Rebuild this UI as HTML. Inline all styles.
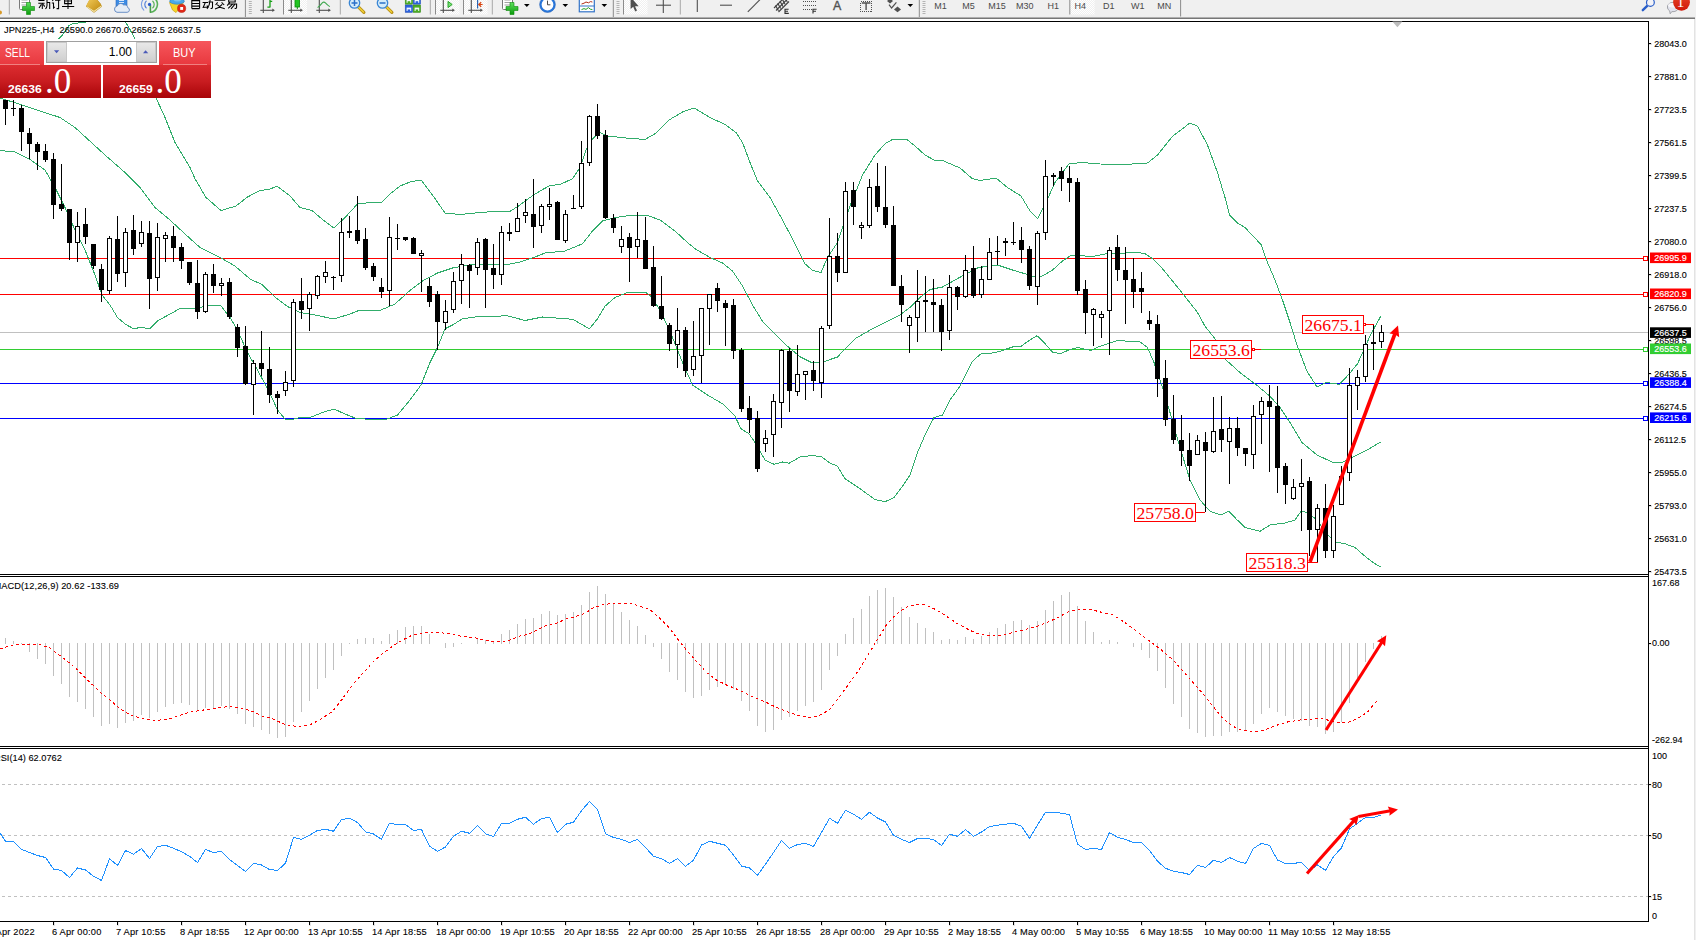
<!DOCTYPE html><html><head><meta charset="utf-8"><title>JPN225 H4</title>
<style>
html,body{margin:0;padding:0;background:#fff;}
body{width:1696px;height:940px;position:relative;overflow:hidden;font-family:'Liberation Sans', sans-serif;}
#tb{position:absolute;left:0;top:0;width:1696px;height:17px;background:#f0f0f0;}
#re{position:absolute;left:1694.7px;top:0;width:1.3px;height:940px;background:#f0f0f0;}
#tbb{position:absolute;left:0;top:15.8px;width:1695px;height:3.2px;background:linear-gradient(#f8f8f8,#ececec 22%,#a4a4a4 55%,#5c5c5c 100%);}
#panel{position:absolute;left:0;top:41px;width:211px;height:57px;}
#panel div{position:absolute;box-sizing:border-box;}
.rb{background:linear-gradient(#f6565c,#e8383e);color:#fff;font-size:12.5px;}
.rp{background:linear-gradient(#dc2c30,#c81c20 50%,#a80408);color:#fff;}
svg{position:absolute;left:0;top:0;}
svg text{font-family:'Liberation Sans', sans-serif;}
</style></head><body>
<svg id="chart" width="1696" height="940" viewBox="0 0 1696 940">
<defs><clipPath id="cm"><rect x="0" y="22" width="1648" height="552"/></clipPath><clipPath id="c2"><rect x="0" y="577" width="1648" height="169"/></clipPath><clipPath id="c3"><rect x="0" y="749" width="1648" height="172"/></clipPath></defs>
<g shape-rendering="crispEdges" fill="#000">
<rect x="0" y="21" width="1649" height="1"/>
<rect x="1648" y="21" width="1" height="901"/>
<rect x="0" y="574" width="1649" height="1"/>
<rect x="0" y="576" width="1649" height="1"/>
<rect x="0" y="746" width="1649" height="1"/>
<rect x="0" y="748" width="1649" height="1"/>
<rect x="0" y="921" width="1649" height="1"/>
</g>
<rect x="1694" y="19" width="1" height="921" fill="#e3e3e3" shape-rendering="crispEdges"/>
<g shape-rendering="crispEdges">
<rect x="0" y="332" width="1648" height="1" fill="#c0c0c0"/>
<rect x="0" y="258" width="1643" height="1" fill="#ff0000"/>
<rect x="1643.5" y="256.5" width="4" height="4" fill="#fff" stroke="#ff0000" stroke-width="1"/>
<rect x="0" y="294" width="1643" height="1" fill="#ff0000"/>
<rect x="1643.5" y="292.5" width="4" height="4" fill="#fff" stroke="#ff0000" stroke-width="1"/>
<rect x="0" y="349" width="1643" height="1" fill="#32cd32"/>
<rect x="1643.5" y="347.5" width="4" height="4" fill="#fff" stroke="#32cd32" stroke-width="1"/>
<rect x="0" y="383" width="1643" height="1" fill="#0000ff"/>
<rect x="1643.5" y="381.5" width="4" height="4" fill="#fff" stroke="#0000ff" stroke-width="1"/>
<rect x="0" y="418" width="1643" height="1" fill="#0000ff"/>
<rect x="1643.5" y="416.5" width="4" height="4" fill="#fff" stroke="#0000ff" stroke-width="1"/>
</g>
<g clip-path="url(#cm)" fill="none" stroke="#31ad6b" stroke-width="1" stroke-linejoin="round" shape-rendering="crispEdges">
<polyline points="0,52 30,48 50,44 59.1,38.7 62,35.5 66,30.3 68.5,25.9 71.1,24.2 76.3,23.3 81.5,22.4 85.7,22 95,20.5 105,19.5 115,20.5 125.6,22 130.1,29.6 134.7,38.7 145,65 157,100 165,117.5 175,142.5 190,167.5 195,178.75 206,197.5 221,210.5 236,206 247.5,197 260,190.5 269,189.5 277,186 290,196 300,207.5 312,210.5 322.5,219.5 334,228 345,217.5 357.5,204 370,202.5 381,203 390,194 400,186 410,182 421,180 432.5,195 445,213 460,214.5 475,213 490,211.75 509,212 520,205 530,197.5 540,191 550,185.5 560,184.5 572.5,178.75 580,167.5 586,150 592.5,138.75 600,132.5 607.5,136 626,138 645,139.5 655,133.75 669,120 682.5,112 694,108 710,117.5 725,124.5 736,132.5 742.5,142.5 750,162.5 757.5,181 770,197.5 782.5,220 795,243.75 805,263.75 812.5,270.5 821,272.5 827.5,257.5 837.5,242.5 850,206 862.5,175 875,155 885,143.75 892.5,139.5 907.5,140 915,146 925,155 935,160.5 942.5,160.5 960,168 972.5,178.75 980,180.5 996,178 1007.5,187.5 1021,196 1030,211 1037.5,218.75 1046,202.5 1055,182.5 1069,163.75 1082.5,162.5 1100,164 1125,164.5 1147.5,163 1157.5,155 1172.5,136.25 1190,123 1197.5,126.25 1207.5,145 1217.5,172.5 1225,197.5 1229.5,215 1237.5,223 1245,227.5 1261,244.5 1267.5,262.5 1275,280 1282.5,300 1290,322.5 1297,345 1307,371.25 1317,387 1326,382.5 1339.5,384.3 1349.4,373.7 1357.5,363.8 1363.4,351 1370.4,335 1381,315.8"/>
<polyline points="0,98 22,105 60,117.5 75,127.5 105,155 125,172.5 140,187.5 155,207.5 170,220 185,234 200,247.5 220,257.5 235,266 250,279 262,284.5 275,297 287.5,306.5 300,312.5 312.5,314.5 334,319 350,314 357.5,311 381,310 395,304 410,290.5 422.5,281 437.5,273 452.5,268 470,265 485,264 507.5,264.5 520,262 535,257 545,253 565,251 582.5,243.75 592.5,231 602.5,221 615,217.5 630,215.5 647.5,215.5 660,220 675,231 687.5,242.5 695,248.75 710,257.5 722.5,263 732.5,271 742.5,286 752.5,305 762.5,321.25 775,333.75 787.5,346.25 800,356.75 812.5,363 825,361.25 837.5,357 845,348.75 855,338.75 872.5,328.75 887.5,321.25 900,315 910,307.5 920,297.5 930,289.5 942.5,287 955,280 965,274.5 977.5,268 987.5,266 997.5,265 1012.5,270 1025,273.75 1035,277 1042.5,276 1052.5,270 1062.5,261 1070,256 1080,255 1090,257 1100,255 1110,253 1125,253 1135,252 1145,253.75 1152.5,258.75 1162.5,268.75 1172.5,281 1185,296.5 1197.5,312.5 1205,326.25 1215,338.75 1226,360 1240,372.5 1255,383.75 1270,396.25 1280,407.5 1290,422.5 1302,442.5 1317,455 1332,462 1340.75,463 1352,457.5 1367,450 1380.75,442"/>
<polyline points="0,150.5 15,152 30,159.5 45,170 55,187.5 65,207.5 75,230 85,250 95,275 102,295 110,305 117.5,317.5 125,324 134,329 141,327 149.5,329 157.5,321 170,314 181,308 195,309 207,305.5 221,306 230,317.5 237.5,330 247.5,352.5 257.5,370 269.5,392.5 277.5,410 285,419 294,419 300,417.5 310,417.5 322.5,412.5 334,409 345,414 355,418 370,419.5 386,419.5 397.5,415 410,400 421,385 430,362.5 437.5,347.5 445,328.75 452.5,325 462.5,318.75 475,317 507.5,315.75 525,320.5 542.5,317 572.5,319.25 589.5,328.75 597.5,318.75 605,306.25 615,297.5 627.5,292.5 646,292.5 652.5,297.5 662.5,315 672.5,337.5 682.5,362.5 692.5,385 707.5,395 722.5,403.75 735,416.25 741,428.75 749,433.75 755,442.5 765,460 774,464.25 782.5,462 789,463.25 800,457 810,455.75 821,456.25 830,463 837.5,466.25 845,478.75 860,488.75 875,499.5 885,501.75 894,497.5 902.5,486.25 910,475 917.5,452.5 925,435 934,417.5 942.5,415 950,400 960,386.25 972.5,361.25 981,353.75 992.5,353 1000,351.25 1012.5,347 1021,346.25 1030,340 1037,335.75 1044,342.5 1052.5,352 1060,353.75 1070,349.5 1077.5,347.5 1091,350.5 1100,346.25 1117.5,340.5 1125,341 1140,342 1147.5,347.5 1154,362.5 1162.5,387.5 1170,412.5 1180,447.5 1190,480 1200,500 1210,511.25 1221,515 1229,511.25 1236,518.75 1245,527.5 1260,531.25 1270,525 1285,523 1295,520 1301,511.25 1307.5,512.5 1317,520 1325,532 1335,542 1345,543.75 1355,547.5 1365,556.25 1375,563.75 1380.5,566.75"/>
</g>
<g shape-rendering="crispEdges" clip-path="url(#cm)">
<rect x="5" y="100" width="1" height="25" fill="#000"/>
<rect x="3" y="100" width="5" height="9" fill="#000"/>
<rect x="13" y="100" width="1" height="16" fill="#000"/>
<rect x="11" y="108" width="5" height="1" fill="#000"/>
<rect x="21" y="105" width="1" height="46" fill="#000"/>
<rect x="19" y="108" width="5" height="24" fill="#000"/>
<rect x="29" y="128" width="1" height="31" fill="#000"/>
<rect x="27" y="133" width="5" height="11" fill="#000"/>
<rect x="37" y="142" width="1" height="28" fill="#000"/>
<rect x="35" y="144" width="5" height="8" fill="#000"/>
<rect x="45" y="144" width="1" height="18" fill="#000"/>
<rect x="43" y="151" width="5" height="9" fill="#000"/>
<rect x="53" y="153" width="1" height="66" fill="#000"/>
<rect x="51" y="159" width="5" height="46" fill="#000"/>
<rect x="61" y="164" width="1" height="47" fill="#000"/>
<rect x="59" y="204" width="5" height="5" fill="#000"/>
<rect x="69" y="209" width="1" height="51" fill="#000"/>
<rect x="67" y="209" width="5" height="34" fill="#000"/>
<rect x="77" y="212" width="1" height="50" fill="#000"/>
<rect x="75.5" y="226.5" width="4" height="16" fill="#fff" stroke="#000" stroke-width="1"/>
<rect x="85" y="208" width="1" height="36" fill="#000"/>
<rect x="83" y="224" width="5" height="13" fill="#000"/>
<rect x="93" y="244" width="1" height="25" fill="#000"/>
<rect x="91" y="244" width="5" height="22" fill="#000"/>
<rect x="101" y="264" width="1" height="38" fill="#000"/>
<rect x="99" y="269" width="5" height="21" fill="#000"/>
<rect x="109" y="236" width="1" height="58" fill="#000"/>
<rect x="107.5" y="238.5" width="4" height="52" fill="#fff" stroke="#000" stroke-width="1"/>
<rect x="117" y="216" width="1" height="66" fill="#000"/>
<rect x="115" y="239" width="5" height="35" fill="#000"/>
<rect x="125" y="228" width="1" height="59" fill="#000"/>
<rect x="123.5" y="232.5" width="4" height="40" fill="#fff" stroke="#000" stroke-width="1"/>
<rect x="133" y="215" width="1" height="40" fill="#000"/>
<rect x="131" y="230" width="5" height="19" fill="#000"/>
<rect x="141" y="221" width="1" height="26" fill="#000"/>
<rect x="139.5" y="232.5" width="4" height="11" fill="#fff" stroke="#000" stroke-width="1"/>
<rect x="149" y="221" width="1" height="88" fill="#000"/>
<rect x="147" y="233" width="5" height="46" fill="#000"/>
<rect x="157" y="223" width="1" height="68" fill="#000"/>
<rect x="155.5" y="237.5" width="4" height="40" fill="#fff" stroke="#000" stroke-width="1"/>
<rect x="165" y="232" width="1" height="30" fill="#000"/>
<rect x="163.5" y="235.5" width="4" height="3" fill="#fff" stroke="#000" stroke-width="1"/>
<rect x="173" y="226" width="1" height="36" fill="#000"/>
<rect x="171" y="236" width="5" height="12" fill="#000"/>
<rect x="181" y="243" width="1" height="26" fill="#000"/>
<rect x="179" y="247" width="5" height="14" fill="#000"/>
<rect x="189" y="262" width="1" height="23" fill="#000"/>
<rect x="187" y="262" width="5" height="21" fill="#000"/>
<rect x="197" y="260" width="1" height="59" fill="#000"/>
<rect x="195" y="283" width="5" height="29" fill="#000"/>
<rect x="205" y="272" width="1" height="41" fill="#000"/>
<rect x="203.5" y="274.5" width="4" height="37" fill="#fff" stroke="#000" stroke-width="1"/>
<rect x="213" y="264" width="1" height="29" fill="#000"/>
<rect x="211" y="274" width="5" height="12" fill="#000"/>
<rect x="221" y="278" width="1" height="18" fill="#000"/>
<rect x="219.5" y="283.5" width="4" height="2" fill="#fff" stroke="#000" stroke-width="1"/>
<rect x="229" y="278" width="1" height="41" fill="#000"/>
<rect x="227" y="282" width="5" height="35" fill="#000"/>
<rect x="237" y="324" width="1" height="33" fill="#000"/>
<rect x="235" y="327" width="5" height="21" fill="#000"/>
<rect x="245" y="326" width="1" height="59" fill="#000"/>
<rect x="243" y="346" width="5" height="38" fill="#000"/>
<rect x="253" y="360" width="1" height="55" fill="#000"/>
<rect x="251.5" y="363.5" width="4" height="21" fill="#fff" stroke="#000" stroke-width="1"/>
<rect x="261" y="331" width="1" height="45" fill="#000"/>
<rect x="259" y="363" width="5" height="6" fill="#000"/>
<rect x="269" y="347" width="1" height="56" fill="#000"/>
<rect x="267" y="369" width="5" height="26" fill="#000"/>
<rect x="277" y="391" width="1" height="23" fill="#000"/>
<rect x="275" y="394" width="5" height="4" fill="#000"/>
<rect x="285" y="371" width="1" height="25" fill="#000"/>
<rect x="283.5" y="382.5" width="4" height="8" fill="#fff" stroke="#000" stroke-width="1"/>
<rect x="293" y="299" width="1" height="88" fill="#000"/>
<rect x="291.5" y="302.5" width="4" height="78" fill="#fff" stroke="#000" stroke-width="1"/>
<rect x="301" y="278" width="1" height="41" fill="#000"/>
<rect x="299" y="301" width="5" height="9" fill="#000"/>
<rect x="309" y="292" width="1" height="39" fill="#000"/>
<rect x="307.5" y="294.5" width="4" height="14" fill="#fff" stroke="#000" stroke-width="1"/>
<rect x="317" y="275" width="1" height="24" fill="#000"/>
<rect x="315.5" y="276.5" width="4" height="19" fill="#fff" stroke="#000" stroke-width="1"/>
<rect x="325" y="261" width="1" height="22" fill="#000"/>
<rect x="323.5" y="272.5" width="4" height="4" fill="#fff" stroke="#000" stroke-width="1"/>
<rect x="333" y="276" width="1" height="14" fill="#000"/>
<rect x="331" y="277" width="5" height="1" fill="#000"/>
<rect x="341" y="218" width="1" height="64" fill="#000"/>
<rect x="339.5" y="232.5" width="4" height="43" fill="#fff" stroke="#000" stroke-width="1"/>
<rect x="349" y="216" width="1" height="22" fill="#000"/>
<rect x="347" y="231" width="5" height="2" fill="#000"/>
<rect x="357" y="196" width="1" height="48" fill="#000"/>
<rect x="355" y="230" width="5" height="11" fill="#000"/>
<rect x="365" y="228" width="1" height="42" fill="#000"/>
<rect x="363" y="239" width="5" height="29" fill="#000"/>
<rect x="373" y="263" width="1" height="18" fill="#000"/>
<rect x="371" y="266" width="5" height="11" fill="#000"/>
<rect x="381" y="278" width="1" height="20" fill="#000"/>
<rect x="379" y="287" width="5" height="5" fill="#000"/>
<rect x="389" y="217" width="1" height="89" fill="#000"/>
<rect x="387.5" y="237.5" width="4" height="53" fill="#fff" stroke="#000" stroke-width="1"/>
<rect x="397" y="224" width="1" height="26" fill="#000"/>
<rect x="395" y="238" width="5" height="1" fill="#000"/>
<rect x="405" y="237" width="1" height="4" fill="#000"/>
<rect x="403" y="237" width="5" height="3" fill="#000"/>
<rect x="413" y="237" width="1" height="17" fill="#000"/>
<rect x="411" y="238" width="5" height="16" fill="#000"/>
<rect x="421" y="250" width="1" height="42" fill="#000"/>
<rect x="419.5" y="253.5" width="4" height="2" fill="#fff" stroke="#000" stroke-width="1"/>
<rect x="429" y="278" width="1" height="29" fill="#000"/>
<rect x="427" y="286" width="5" height="16" fill="#000"/>
<rect x="437" y="291" width="1" height="59" fill="#000"/>
<rect x="435" y="294" width="5" height="28" fill="#000"/>
<rect x="445" y="300" width="1" height="30" fill="#000"/>
<rect x="443.5" y="311.5" width="4" height="11" fill="#fff" stroke="#000" stroke-width="1"/>
<rect x="453" y="272" width="1" height="41" fill="#000"/>
<rect x="451.5" y="281.5" width="4" height="28" fill="#fff" stroke="#000" stroke-width="1"/>
<rect x="461" y="254" width="1" height="50" fill="#000"/>
<rect x="459.5" y="264.5" width="4" height="16" fill="#fff" stroke="#000" stroke-width="1"/>
<rect x="469" y="264" width="1" height="44" fill="#000"/>
<rect x="467" y="265" width="5" height="6" fill="#000"/>
<rect x="477" y="238" width="1" height="37" fill="#000"/>
<rect x="475.5" y="242.5" width="4" height="25" fill="#fff" stroke="#000" stroke-width="1"/>
<rect x="485" y="238" width="1" height="70" fill="#000"/>
<rect x="483" y="239" width="5" height="31" fill="#000"/>
<rect x="493" y="244" width="1" height="45" fill="#000"/>
<rect x="491" y="268" width="5" height="7" fill="#000"/>
<rect x="501" y="226" width="1" height="59" fill="#000"/>
<rect x="499.5" y="232.5" width="4" height="42" fill="#fff" stroke="#000" stroke-width="1"/>
<rect x="509" y="223" width="1" height="18" fill="#000"/>
<rect x="507" y="232" width="5" height="2" fill="#000"/>
<rect x="517" y="203" width="1" height="29" fill="#000"/>
<rect x="515.5" y="218.5" width="4" height="13" fill="#fff" stroke="#000" stroke-width="1"/>
<rect x="525" y="199" width="1" height="24" fill="#000"/>
<rect x="523.5" y="212.5" width="4" height="3" fill="#fff" stroke="#000" stroke-width="1"/>
<rect x="533" y="179" width="1" height="69" fill="#000"/>
<rect x="531" y="214" width="5" height="13" fill="#000"/>
<rect x="541" y="204" width="1" height="29" fill="#000"/>
<rect x="539.5" y="206.5" width="4" height="19" fill="#fff" stroke="#000" stroke-width="1"/>
<rect x="549" y="188" width="1" height="32" fill="#000"/>
<rect x="547.5" y="204.5" width="4" height="2" fill="#fff" stroke="#000" stroke-width="1"/>
<rect x="557" y="201" width="1" height="39" fill="#000"/>
<rect x="555" y="202" width="5" height="38" fill="#000"/>
<rect x="565" y="210" width="1" height="33" fill="#000"/>
<rect x="563.5" y="214.5" width="4" height="26" fill="#fff" stroke="#000" stroke-width="1"/>
<rect x="573" y="195" width="1" height="13" fill="#000"/>
<rect x="571" y="208" width="5" height="1" fill="#000"/>
<rect x="581" y="141" width="1" height="68" fill="#000"/>
<rect x="579.5" y="163.5" width="4" height="43" fill="#fff" stroke="#000" stroke-width="1"/>
<rect x="589" y="115" width="1" height="51" fill="#000"/>
<rect x="587.5" y="116.5" width="4" height="46" fill="#fff" stroke="#000" stroke-width="1"/>
<rect x="597" y="104" width="1" height="35" fill="#000"/>
<rect x="595" y="116" width="5" height="20" fill="#000"/>
<rect x="605" y="130" width="1" height="89" fill="#000"/>
<rect x="603" y="135" width="5" height="83" fill="#000"/>
<rect x="613" y="214" width="1" height="19" fill="#000"/>
<rect x="611" y="218" width="5" height="10" fill="#000"/>
<rect x="621" y="226" width="1" height="27" fill="#000"/>
<rect x="619.5" y="239.5" width="4" height="7" fill="#fff" stroke="#000" stroke-width="1"/>
<rect x="629" y="233" width="1" height="49" fill="#000"/>
<rect x="627" y="237" width="5" height="11" fill="#000"/>
<rect x="637" y="212" width="1" height="46" fill="#000"/>
<rect x="635.5" y="239.5" width="4" height="7" fill="#fff" stroke="#000" stroke-width="1"/>
<rect x="645" y="217" width="1" height="52" fill="#000"/>
<rect x="643" y="240" width="5" height="29" fill="#000"/>
<rect x="653" y="246" width="1" height="61" fill="#000"/>
<rect x="651" y="267" width="5" height="39" fill="#000"/>
<rect x="661" y="276" width="1" height="44" fill="#000"/>
<rect x="659" y="306" width="5" height="13" fill="#000"/>
<rect x="669" y="323" width="1" height="28" fill="#000"/>
<rect x="667" y="325" width="5" height="19" fill="#000"/>
<rect x="677" y="308" width="1" height="60" fill="#000"/>
<rect x="675.5" y="330.5" width="4" height="14" fill="#fff" stroke="#000" stroke-width="1"/>
<rect x="685" y="327" width="1" height="50" fill="#000"/>
<rect x="683" y="330" width="5" height="41" fill="#000"/>
<rect x="693" y="321" width="1" height="55" fill="#000"/>
<rect x="691.5" y="356.5" width="4" height="13" fill="#fff" stroke="#000" stroke-width="1"/>
<rect x="701" y="308" width="1" height="75" fill="#000"/>
<rect x="699.5" y="308.5" width="4" height="47" fill="#fff" stroke="#000" stroke-width="1"/>
<rect x="709" y="294" width="1" height="51" fill="#000"/>
<rect x="707.5" y="294.5" width="4" height="14" fill="#fff" stroke="#000" stroke-width="1"/>
<rect x="717" y="283" width="1" height="29" fill="#000"/>
<rect x="715" y="288" width="5" height="13" fill="#000"/>
<rect x="725" y="300" width="1" height="46" fill="#000"/>
<rect x="723" y="303" width="5" height="5" fill="#000"/>
<rect x="733" y="299" width="1" height="60" fill="#000"/>
<rect x="731" y="305" width="5" height="46" fill="#000"/>
<rect x="741" y="348" width="1" height="64" fill="#000"/>
<rect x="739" y="350" width="5" height="59" fill="#000"/>
<rect x="749" y="396" width="1" height="37" fill="#000"/>
<rect x="747" y="408" width="5" height="12" fill="#000"/>
<rect x="757" y="411" width="1" height="61" fill="#000"/>
<rect x="755" y="418" width="5" height="51" fill="#000"/>
<rect x="765" y="430" width="1" height="22" fill="#000"/>
<rect x="763.5" y="438.5" width="4" height="5" fill="#fff" stroke="#000" stroke-width="1"/>
<rect x="773" y="394" width="1" height="63" fill="#000"/>
<rect x="771.5" y="401.5" width="4" height="33" fill="#fff" stroke="#000" stroke-width="1"/>
<rect x="781" y="349" width="1" height="79" fill="#000"/>
<rect x="779.5" y="350.5" width="4" height="52" fill="#fff" stroke="#000" stroke-width="1"/>
<rect x="789" y="348" width="1" height="64" fill="#000"/>
<rect x="787" y="351" width="5" height="40" fill="#000"/>
<rect x="797" y="345" width="1" height="51" fill="#000"/>
<rect x="795.5" y="374.5" width="4" height="17" fill="#fff" stroke="#000" stroke-width="1"/>
<rect x="805" y="371" width="1" height="29" fill="#000"/>
<rect x="803.5" y="371.5" width="4" height="3" fill="#fff" stroke="#000" stroke-width="1"/>
<rect x="813" y="361" width="1" height="30" fill="#000"/>
<rect x="811" y="370" width="5" height="11" fill="#000"/>
<rect x="821" y="326" width="1" height="72" fill="#000"/>
<rect x="819.5" y="328.5" width="4" height="54" fill="#fff" stroke="#000" stroke-width="1"/>
<rect x="829" y="218" width="1" height="111" fill="#000"/>
<rect x="827.5" y="256.5" width="4" height="69" fill="#fff" stroke="#000" stroke-width="1"/>
<rect x="837" y="233" width="1" height="49" fill="#000"/>
<rect x="835" y="256" width="5" height="17" fill="#000"/>
<rect x="845" y="182" width="1" height="91" fill="#000"/>
<rect x="843.5" y="191.5" width="4" height="81" fill="#fff" stroke="#000" stroke-width="1"/>
<rect x="853" y="182" width="1" height="43" fill="#000"/>
<rect x="851" y="190" width="5" height="17" fill="#000"/>
<rect x="861" y="222" width="1" height="17" fill="#000"/>
<rect x="859.5" y="225.5" width="4" height="2" fill="#fff" stroke="#000" stroke-width="1"/>
<rect x="869" y="179" width="1" height="49" fill="#000"/>
<rect x="867.5" y="187.5" width="4" height="38" fill="#fff" stroke="#000" stroke-width="1"/>
<rect x="877" y="163" width="1" height="49" fill="#000"/>
<rect x="875" y="186" width="5" height="21" fill="#000"/>
<rect x="885" y="166" width="1" height="62" fill="#000"/>
<rect x="883" y="207" width="5" height="18" fill="#000"/>
<rect x="893" y="206" width="1" height="80" fill="#000"/>
<rect x="891" y="225" width="5" height="61" fill="#000"/>
<rect x="901" y="275" width="1" height="47" fill="#000"/>
<rect x="899" y="286" width="5" height="19" fill="#000"/>
<rect x="909" y="315" width="1" height="38" fill="#000"/>
<rect x="907.5" y="317.5" width="4" height="8" fill="#fff" stroke="#000" stroke-width="1"/>
<rect x="917" y="270" width="1" height="72" fill="#000"/>
<rect x="915.5" y="301.5" width="4" height="16" fill="#fff" stroke="#000" stroke-width="1"/>
<rect x="925" y="276" width="1" height="56" fill="#000"/>
<rect x="923" y="300" width="5" height="2" fill="#000"/>
<rect x="933" y="279" width="1" height="53" fill="#000"/>
<rect x="931" y="302" width="5" height="3" fill="#000"/>
<rect x="941" y="299" width="1" height="52" fill="#000"/>
<rect x="939" y="305" width="5" height="27" fill="#000"/>
<rect x="949" y="275" width="1" height="65" fill="#000"/>
<rect x="947.5" y="287.5" width="4" height="43" fill="#fff" stroke="#000" stroke-width="1"/>
<rect x="957" y="286" width="1" height="24" fill="#000"/>
<rect x="955" y="287" width="5" height="10" fill="#000"/>
<rect x="965" y="255" width="1" height="43" fill="#000"/>
<rect x="963.5" y="270.5" width="4" height="26" fill="#fff" stroke="#000" stroke-width="1"/>
<rect x="973" y="246" width="1" height="52" fill="#000"/>
<rect x="971" y="268" width="5" height="28" fill="#000"/>
<rect x="981" y="266" width="1" height="32" fill="#000"/>
<rect x="979.5" y="279.5" width="4" height="15" fill="#fff" stroke="#000" stroke-width="1"/>
<rect x="989" y="238" width="1" height="42" fill="#000"/>
<rect x="987.5" y="252.5" width="4" height="27" fill="#fff" stroke="#000" stroke-width="1"/>
<rect x="997" y="236" width="1" height="29" fill="#000"/>
<rect x="995" y="251" width="5" height="1" fill="#000"/>
<rect x="1005" y="238" width="1" height="18" fill="#000"/>
<rect x="1003" y="241" width="5" height="2" fill="#000"/>
<rect x="1013" y="222" width="1" height="23" fill="#000"/>
<rect x="1011" y="242" width="5" height="1" fill="#000"/>
<rect x="1021" y="227" width="1" height="36" fill="#000"/>
<rect x="1019" y="240" width="5" height="10" fill="#000"/>
<rect x="1029" y="246" width="1" height="44" fill="#000"/>
<rect x="1027" y="249" width="5" height="37" fill="#000"/>
<rect x="1037" y="231" width="1" height="74" fill="#000"/>
<rect x="1035.5" y="233.5" width="4" height="53" fill="#fff" stroke="#000" stroke-width="1"/>
<rect x="1045" y="160" width="1" height="80" fill="#000"/>
<rect x="1043.5" y="176.5" width="4" height="56" fill="#fff" stroke="#000" stroke-width="1"/>
<rect x="1053" y="173" width="1" height="13" fill="#000"/>
<rect x="1051" y="175" width="5" height="2" fill="#000"/>
<rect x="1061" y="167" width="1" height="24" fill="#000"/>
<rect x="1059" y="171" width="5" height="8" fill="#000"/>
<rect x="1069" y="166" width="1" height="36" fill="#000"/>
<rect x="1067" y="178" width="5" height="5" fill="#000"/>
<rect x="1077" y="178" width="1" height="117" fill="#000"/>
<rect x="1075" y="182" width="5" height="109" fill="#000"/>
<rect x="1085" y="280" width="1" height="54" fill="#000"/>
<rect x="1083" y="289" width="5" height="24" fill="#000"/>
<rect x="1093" y="308" width="1" height="38" fill="#000"/>
<rect x="1091.5" y="309.5" width="4" height="5" fill="#fff" stroke="#000" stroke-width="1"/>
<rect x="1101" y="311" width="1" height="27" fill="#000"/>
<rect x="1099.5" y="314.5" width="4" height="3" fill="#fff" stroke="#000" stroke-width="1"/>
<rect x="1109" y="247" width="1" height="108" fill="#000"/>
<rect x="1107.5" y="250.5" width="4" height="60" fill="#fff" stroke="#000" stroke-width="1"/>
<rect x="1117" y="235" width="1" height="46" fill="#000"/>
<rect x="1115" y="247" width="5" height="23" fill="#000"/>
<rect x="1125" y="247" width="1" height="77" fill="#000"/>
<rect x="1123" y="270" width="5" height="10" fill="#000"/>
<rect x="1133" y="258" width="1" height="50" fill="#000"/>
<rect x="1131" y="279" width="5" height="13" fill="#000"/>
<rect x="1141" y="272" width="1" height="41" fill="#000"/>
<rect x="1139" y="288" width="5" height="4" fill="#000"/>
<rect x="1149" y="311" width="1" height="19" fill="#000"/>
<rect x="1147" y="320" width="5" height="4" fill="#000"/>
<rect x="1157" y="315" width="1" height="82" fill="#000"/>
<rect x="1155" y="324" width="5" height="55" fill="#000"/>
<rect x="1165" y="360" width="1" height="66" fill="#000"/>
<rect x="1163" y="378" width="5" height="42" fill="#000"/>
<rect x="1173" y="395" width="1" height="49" fill="#000"/>
<rect x="1171" y="419" width="5" height="21" fill="#000"/>
<rect x="1181" y="415" width="1" height="51" fill="#000"/>
<rect x="1179" y="440" width="5" height="11" fill="#000"/>
<rect x="1189" y="433" width="1" height="48" fill="#000"/>
<rect x="1187" y="450" width="5" height="16" fill="#000"/>
<rect x="1197" y="435" width="1" height="20" fill="#000"/>
<rect x="1195.5" y="440.5" width="4" height="14" fill="#fff" stroke="#000" stroke-width="1"/>
<rect x="1205" y="432" width="1" height="80" fill="#000"/>
<rect x="1203" y="442" width="5" height="9" fill="#000"/>
<rect x="1213" y="397" width="1" height="56" fill="#000"/>
<rect x="1211.5" y="431.5" width="4" height="20" fill="#fff" stroke="#000" stroke-width="1"/>
<rect x="1221" y="396" width="1" height="56" fill="#000"/>
<rect x="1219" y="429" width="5" height="11" fill="#000"/>
<rect x="1229" y="417" width="1" height="67" fill="#000"/>
<rect x="1227.5" y="428.5" width="4" height="13" fill="#fff" stroke="#000" stroke-width="1"/>
<rect x="1237" y="417" width="1" height="39" fill="#000"/>
<rect x="1235" y="428" width="5" height="20" fill="#000"/>
<rect x="1245" y="448" width="1" height="18" fill="#000"/>
<rect x="1243" y="448" width="5" height="6" fill="#000"/>
<rect x="1253" y="405" width="1" height="64" fill="#000"/>
<rect x="1251.5" y="416.5" width="4" height="38" fill="#fff" stroke="#000" stroke-width="1"/>
<rect x="1261" y="397" width="1" height="47" fill="#000"/>
<rect x="1259.5" y="401.5" width="4" height="13" fill="#fff" stroke="#000" stroke-width="1"/>
<rect x="1269" y="385" width="1" height="87" fill="#000"/>
<rect x="1267" y="401" width="5" height="6" fill="#000"/>
<rect x="1277" y="386" width="1" height="107" fill="#000"/>
<rect x="1275" y="406" width="5" height="62" fill="#000"/>
<rect x="1285" y="463" width="1" height="41" fill="#000"/>
<rect x="1283" y="466" width="5" height="19" fill="#000"/>
<rect x="1293" y="479" width="1" height="21" fill="#000"/>
<rect x="1291.5" y="487.5" width="4" height="11" fill="#fff" stroke="#000" stroke-width="1"/>
<rect x="1301" y="459" width="1" height="72" fill="#000"/>
<rect x="1299.5" y="483.5" width="4" height="3" fill="#fff" stroke="#000" stroke-width="1"/>
<rect x="1309" y="477" width="1" height="79" fill="#000"/>
<rect x="1307" y="481" width="5" height="49" fill="#000"/>
<rect x="1317" y="504" width="1" height="58" fill="#000"/>
<rect x="1315.5" y="508.5" width="4" height="21" fill="#fff" stroke="#000" stroke-width="1"/>
<rect x="1325" y="484" width="1" height="74" fill="#000"/>
<rect x="1323" y="508" width="5" height="43" fill="#000"/>
<rect x="1333" y="505" width="1" height="53" fill="#000"/>
<rect x="1331.5" y="516.5" width="4" height="34" fill="#fff" stroke="#000" stroke-width="1"/>
<rect x="1341" y="466" width="1" height="39" fill="#000"/>
<rect x="1339.5" y="476.5" width="4" height="28" fill="#fff" stroke="#000" stroke-width="1"/>
<rect x="1349" y="368" width="1" height="113" fill="#000"/>
<rect x="1347.5" y="385.5" width="4" height="87" fill="#fff" stroke="#000" stroke-width="1"/>
<rect x="1357" y="370" width="1" height="40" fill="#000"/>
<rect x="1355.5" y="377.5" width="4" height="8" fill="#fff" stroke="#000" stroke-width="1"/>
<rect x="1365" y="335" width="1" height="47" fill="#000"/>
<rect x="1363.5" y="344.5" width="4" height="32" fill="#fff" stroke="#000" stroke-width="1"/>
<rect x="1373" y="325" width="1" height="45" fill="#000"/>
<rect x="1371" y="342" width="5" height="2" fill="#000"/>
<rect x="1381" y="325" width="1" height="23" fill="#000"/>
<rect x="1379.5" y="332.5" width="4" height="9" fill="#fff" stroke="#000" stroke-width="1"/>
</g>
<rect x="1302.5" y="315.5" width="61" height="18" fill="#fff" stroke="#ff0000" stroke-width="1" shape-rendering="crispEdges"/>
<text x="1333.2" y="330.8" text-anchor="middle" font-size="17.6" fill="#ff0000" style="font-family:'Liberation Serif', serif" textLength="57.4" lengthAdjust="spacingAndGlyphs">26675.1</text>
<polyline points="1363,324.5 1373.5,324.5" fill="none" stroke="#ff0000" stroke-width="1" shape-rendering="crispEdges"/>
<rect x="1363.5" y="323.5" width="2" height="2" fill="#fff" stroke="#f00" stroke-width="1" shape-rendering="crispEdges"/>
<rect x="1190.5" y="340.5" width="61" height="18" fill="#fff" stroke="#ff0000" stroke-width="1" shape-rendering="crispEdges"/>
<text x="1221.2" y="355.8" text-anchor="middle" font-size="17.6" fill="#ff0000" style="font-family:'Liberation Serif', serif" textLength="57.4" lengthAdjust="spacingAndGlyphs">26553.6</text>
<polyline points="1252,349.5 1261,349.5" fill="none" stroke="#ff0000" stroke-width="1" shape-rendering="crispEdges"/>
<rect x="1252.5" y="348.5" width="2" height="2" fill="#fff" stroke="#f00" stroke-width="1" shape-rendering="crispEdges"/>
<rect x="1134.5" y="503.5" width="61" height="18" fill="#fff" stroke="#ff0000" stroke-width="1" shape-rendering="crispEdges"/>
<text x="1165.2" y="518.8" text-anchor="middle" font-size="17.6" fill="#ff0000" style="font-family:'Liberation Serif', serif" textLength="57.4" lengthAdjust="spacingAndGlyphs">25758.0</text>
<polyline points="1195,512.5 1205,512.5" fill="none" stroke="#ff0000" stroke-width="1" shape-rendering="crispEdges"/>
<rect x="1246.5" y="553.5" width="61" height="18" fill="#fff" stroke="#ff0000" stroke-width="1" shape-rendering="crispEdges"/>
<text x="1277.2" y="568.8" text-anchor="middle" font-size="17.6" fill="#ff0000" style="font-family:'Liberation Serif', serif" textLength="57.4" lengthAdjust="spacingAndGlyphs">25518.3</text>
<polyline points="1307,562.5 1317.5,562.5" fill="none" stroke="#ff0000" stroke-width="1" shape-rendering="crispEdges"/>
<line x1="1310" y1="562" x2="1395.0" y2="333.5" stroke="#ff0000" stroke-width="3.6"/>
<polygon points="1398.0,325.5 1399.2,337.2 1394.8,334.2 1389.5,333.5" fill="#ff0000"/>
<g shape-rendering="crispEdges" fill="#c0c0c0" clip-path="url(#c2)">
<rect x="5" y="638" width="1" height="6"/>
<rect x="13" y="641" width="1" height="3"/>
<rect x="21" y="643" width="1" height="1"/>
<rect x="29" y="643" width="1" height="9"/>
<rect x="37" y="643" width="1" height="16"/>
<rect x="45" y="643" width="1" height="21"/>
<rect x="53" y="643" width="1" height="33"/>
<rect x="61" y="643" width="1" height="41"/>
<rect x="69" y="643" width="1" height="54"/>
<rect x="77" y="643" width="1" height="59"/>
<rect x="85" y="643" width="1" height="66"/>
<rect x="93" y="643" width="1" height="74"/>
<rect x="101" y="643" width="1" height="83"/>
<rect x="109" y="643" width="1" height="81"/>
<rect x="117" y="643" width="1" height="85"/>
<rect x="125" y="643" width="1" height="80"/>
<rect x="133" y="643" width="1" height="78"/>
<rect x="141" y="643" width="1" height="72"/>
<rect x="149" y="643" width="1" height="75"/>
<rect x="157" y="643" width="1" height="69"/>
<rect x="165" y="643" width="1" height="64"/>
<rect x="173" y="643" width="1" height="61"/>
<rect x="181" y="643" width="1" height="60"/>
<rect x="189" y="643" width="1" height="62"/>
<rect x="197" y="643" width="1" height="67"/>
<rect x="205" y="643" width="1" height="65"/>
<rect x="213" y="643" width="1" height="65"/>
<rect x="221" y="643" width="1" height="63"/>
<rect x="229" y="643" width="1" height="66"/>
<rect x="237" y="643" width="1" height="71"/>
<rect x="245" y="643" width="1" height="81"/>
<rect x="253" y="643" width="1" height="84"/>
<rect x="261" y="643" width="1" height="87"/>
<rect x="269" y="643" width="1" height="91"/>
<rect x="277" y="643" width="1" height="95"/>
<rect x="285" y="643" width="1" height="94"/>
<rect x="293" y="643" width="1" height="79"/>
<rect x="301" y="643" width="1" height="69"/>
<rect x="309" y="643" width="1" height="58"/>
<rect x="317" y="643" width="1" height="46"/>
<rect x="325" y="643" width="1" height="35"/>
<rect x="333" y="643" width="1" height="27"/>
<rect x="341" y="643" width="1" height="13"/>
<rect x="349" y="643" width="1" height="1"/>
<rect x="357" y="639" width="1" height="5"/>
<rect x="365" y="638" width="1" height="6"/>
<rect x="373" y="638" width="1" height="6"/>
<rect x="381" y="641" width="1" height="3"/>
<rect x="389" y="634" width="1" height="10"/>
<rect x="397" y="630" width="1" height="14"/>
<rect x="405" y="627" width="1" height="17"/>
<rect x="413" y="626" width="1" height="18"/>
<rect x="421" y="626" width="1" height="18"/>
<rect x="429" y="634" width="1" height="10"/>
<rect x="445" y="643" width="1" height="5"/>
<rect x="453" y="643" width="1" height="4"/>
<rect x="461" y="643" width="1" height="1"/>
<rect x="477" y="639" width="1" height="5"/>
<rect x="485" y="640" width="1" height="4"/>
<rect x="493" y="641" width="1" height="3"/>
<rect x="501" y="634" width="1" height="10"/>
<rect x="509" y="630" width="1" height="14"/>
<rect x="517" y="624" width="1" height="20"/>
<rect x="525" y="619" width="1" height="25"/>
<rect x="533" y="618" width="1" height="26"/>
<rect x="541" y="614" width="1" height="30"/>
<rect x="549" y="611" width="1" height="33"/>
<rect x="557" y="615" width="1" height="29"/>
<rect x="565" y="614" width="1" height="30"/>
<rect x="573" y="612" width="1" height="32"/>
<rect x="581" y="605" width="1" height="39"/>
<rect x="589" y="592" width="1" height="52"/>
<rect x="597" y="586" width="1" height="58"/>
<rect x="605" y="594" width="1" height="50"/>
<rect x="613" y="604" width="1" height="40"/>
<rect x="621" y="612" width="1" height="32"/>
<rect x="629" y="620" width="1" height="24"/>
<rect x="637" y="626" width="1" height="18"/>
<rect x="645" y="635" width="1" height="9"/>
<rect x="653" y="643" width="1" height="4"/>
<rect x="661" y="643" width="1" height="16"/>
<rect x="669" y="643" width="1" height="29"/>
<rect x="677" y="643" width="1" height="37"/>
<rect x="685" y="643" width="1" height="49"/>
<rect x="693" y="643" width="1" height="55"/>
<rect x="701" y="643" width="1" height="53"/>
<rect x="709" y="643" width="1" height="47"/>
<rect x="717" y="643" width="1" height="44"/>
<rect x="725" y="643" width="1" height="42"/>
<rect x="733" y="643" width="1" height="46"/>
<rect x="741" y="643" width="1" height="58"/>
<rect x="749" y="643" width="1" height="68"/>
<rect x="757" y="643" width="1" height="83"/>
<rect x="765" y="643" width="1" height="89"/>
<rect x="773" y="643" width="1" height="87"/>
<rect x="781" y="643" width="1" height="77"/>
<rect x="789" y="643" width="1" height="74"/>
<rect x="797" y="643" width="1" height="68"/>
<rect x="805" y="643" width="1" height="63"/>
<rect x="813" y="643" width="1" height="59"/>
<rect x="821" y="643" width="1" height="47"/>
<rect x="829" y="643" width="1" height="27"/>
<rect x="837" y="643" width="1" height="13"/>
<rect x="845" y="634" width="1" height="10"/>
<rect x="853" y="618" width="1" height="26"/>
<rect x="861" y="609" width="1" height="35"/>
<rect x="869" y="596" width="1" height="48"/>
<rect x="877" y="590" width="1" height="54"/>
<rect x="885" y="588" width="1" height="56"/>
<rect x="893" y="597" width="1" height="47"/>
<rect x="901" y="607" width="1" height="37"/>
<rect x="909" y="617" width="1" height="27"/>
<rect x="917" y="623" width="1" height="21"/>
<rect x="925" y="628" width="1" height="16"/>
<rect x="933" y="632" width="1" height="12"/>
<rect x="941" y="640" width="1" height="4"/>
<rect x="949" y="639" width="1" height="5"/>
<rect x="957" y="640" width="1" height="4"/>
<rect x="965" y="637" width="1" height="7"/>
<rect x="973" y="639" width="1" height="5"/>
<rect x="981" y="636" width="1" height="8"/>
<rect x="989" y="632" width="1" height="12"/>
<rect x="997" y="628" width="1" height="16"/>
<rect x="1005" y="624" width="1" height="20"/>
<rect x="1013" y="621" width="1" height="23"/>
<rect x="1021" y="620" width="1" height="24"/>
<rect x="1029" y="625" width="1" height="19"/>
<rect x="1037" y="621" width="1" height="23"/>
<rect x="1045" y="610" width="1" height="34"/>
<rect x="1053" y="601" width="1" height="43"/>
<rect x="1061" y="595" width="1" height="49"/>
<rect x="1069" y="592" width="1" height="52"/>
<rect x="1077" y="606" width="1" height="38"/>
<rect x="1085" y="621" width="1" height="23"/>
<rect x="1093" y="632" width="1" height="12"/>
<rect x="1101" y="642" width="1" height="2"/>
<rect x="1109" y="640" width="1" height="4"/>
<rect x="1117" y="642" width="1" height="2"/>
<rect x="1133" y="643" width="1" height="4"/>
<rect x="1141" y="643" width="1" height="7"/>
<rect x="1149" y="643" width="1" height="15"/>
<rect x="1157" y="643" width="1" height="28"/>
<rect x="1165" y="643" width="1" height="45"/>
<rect x="1173" y="643" width="1" height="61"/>
<rect x="1181" y="643" width="1" height="74"/>
<rect x="1189" y="643" width="1" height="86"/>
<rect x="1197" y="643" width="1" height="90"/>
<rect x="1205" y="643" width="1" height="94"/>
<rect x="1213" y="643" width="1" height="93"/>
<rect x="1221" y="643" width="1" height="93"/>
<rect x="1229" y="643" width="1" height="89"/>
<rect x="1237" y="643" width="1" height="89"/>
<rect x="1245" y="643" width="1" height="87"/>
<rect x="1253" y="643" width="1" height="81"/>
<rect x="1261" y="643" width="1" height="71"/>
<rect x="1269" y="643" width="1" height="65"/>
<rect x="1277" y="643" width="1" height="69"/>
<rect x="1285" y="643" width="1" height="73"/>
<rect x="1293" y="643" width="1" height="76"/>
<rect x="1301" y="643" width="1" height="78"/>
<rect x="1309" y="643" width="1" height="83"/>
<rect x="1317" y="643" width="1" height="84"/>
<rect x="1325" y="643" width="1" height="91"/>
<rect x="1333" y="643" width="1" height="89"/>
<rect x="1341" y="643" width="1" height="79"/>
<rect x="1349" y="643" width="1" height="60"/>
<rect x="1357" y="643" width="1" height="35"/>
<rect x="1365" y="643" width="1" height="19"/>
<rect x="1373" y="643" width="1" height="6"/>
<rect x="1381" y="636" width="1" height="8"/>
</g>
<polyline clip-path="url(#c2)" points="0,648.75 10,646 20,644 37.5,644 50,648 62.5,657.5 75,667.5 87.5,680 100,692 110,700 120,708.75 130,715 140,718 150,720 160,720 170,718.75 180,715.5 190,712 200,710.5 212.5,708.75 225,707 230,706.25 240,708 252.5,711.25 262.5,716.25 272.5,718.75 285,724.5 300,727 312.5,723.75 322.5,718 332.5,711.25 342.5,698.75 352.5,685 362.5,673.75 372.5,662.5 382.5,653.75 392.5,646.25 402.5,640 412.5,635 424,632.5 439,632.5 451.5,634.25 461.5,636.25 474,637.5 486.5,640.75 499,641.75 509,640.5 519,636.25 529,634.25 539,628.75 546.5,625.5 556.5,623.25 566.5,618.75 576.5,616.25 584,613.75 594,607.5 604,604.5 614,603.25 631.5,603.25 639,606.25 649,608.75 659,617.5 669,627.5 676.5,637.5 686.5,650 696.5,661.25 706.5,672.5 716.5,680 726.5,685 739,690 751.5,696.25 764,701.25 776.5,707.5 789,712.5 799,715.75 809,717.5 819,715.75 829,710 839,697.5 848,685 858,671.25 868,655 878,638.75 885.5,626.25 895.5,615 905.5,607.5 915.5,604.5 925.5,605 935.5,609.5 945.5,615.5 955.5,622.5 965.5,628 975.5,633 985.5,635 998,635.5 1010.5,633.25 1023,630 1035.5,627 1048,622 1058,617.5 1068,612 1078,609.5 1090.5,609.5 1100.5,612 1113,615 1123,621.25 1133,628.75 1143,636.25 1153,643.75 1163,651.25 1173,660 1183,671.25 1193,682.5 1203,693.75 1213,706.25 1223,718.75 1233,726.25 1240.5,730 1253,732 1265,730 1275,725.75 1287.5,722 1300,720 1310,719.25 1320,718.25 1327.5,720 1337.5,723 1347.5,722.5 1357.5,718.75 1367.5,712 1378.75,698.75" fill="none" stroke="#ff0000" stroke-width="1" stroke-dasharray="2.7,2.9" shape-rendering="crispEdges"/>
<g shape-rendering="crispEdges" stroke="#c0c0c0" stroke-width="1" stroke-dasharray="3,3">
<line x1="2" y1="784.5" x2="1648" y2="784.5"/>
<line x1="2" y1="835.5" x2="1648" y2="835.5"/>
<line x1="2" y1="896.5" x2="1648" y2="896.5"/>
</g>
<polyline clip-path="url(#c3)" points="-2.5,829.5 5.5,841.25 13.5,841.25 21.5,849.25 29.5,852.5 37.5,855.5 45.5,857.5 53.5,869 61.5,870.5 69.5,877.5 77.5,868 85.5,870 93.5,876.25 101.5,880.5 109.5,858.75 117.5,865.5 125.5,850.5 133.5,854.25 141.5,848.5 149.5,858.5 157.5,846.5 165.5,845.25 173.5,848.25 181.5,851.75 189.5,856.25 197.5,862.5 205.5,849.5 213.5,852.5 221.5,851.5 229.5,859.5 237.5,865.5 245.5,871.5 253.5,863.25 261.5,865 269.5,869.5 277.5,870.5 285.5,863.25 293.5,837.5 301.5,839.25 309.5,835.25 317.5,830.5 325.5,829.25 333.5,831.25 341.5,819.5 349.5,818.25 357.5,822.5 365.5,831.75 373.5,834 381.5,839.25 389.5,823.25 397.5,824.5 405.5,824.5 413.5,830.5 421.5,829.5 429.5,846.25 437.5,851.25 445.5,847 453.5,836.25 461.5,831.25 469.5,833.25 477.5,825.5 485.5,833.75 493.5,836.5 501.5,823.25 509.5,823.25 517.5,819.25 525.5,817.25 533.5,824.25 541.5,818.5 549.5,817.25 557.5,832.5 565.5,824.25 573.5,822.25 581.5,810.75 589.5,801.5 597.5,809.25 605.5,833.75 613.5,837.5 621.5,839.25 629.5,842.5 637.5,839.25 645.5,847.5 653.5,856.25 661.5,858.75 669.5,863.25 677.5,858.75 685.5,866.25 693.5,860.25 701.5,845 709.5,841.25 717.5,843.25 725.5,845.25 733.5,855 741.5,866 749.5,868 757.5,875.25 765.5,864.25 773.5,852.5 781.5,840.5 789.5,848.25 797.5,844.5 805.5,843.25 813.5,846.5 821.5,832.5 829.5,818.25 837.5,823.25 845.5,810.25 853.5,814.25 861.5,819.25 869.5,812.25 877.5,818 885.5,822 893.5,835.25 901.5,839.25 909.5,842.5 917.5,838.5 925.5,838.25 933.5,839.5 941.5,845.5 949.5,834.25 957.5,836.25 965.5,829.5 973.5,836.25 981.5,832 989.5,826.5 997.5,825.25 1005.5,824.25 1013.5,823.25 1021.5,826.25 1029.5,838.25 1037.5,825 1045.5,812.25 1053.5,812.25 1061.5,813.25 1069.5,814.5 1077.5,844.25 1085.5,849.5 1093.5,848.25 1101.5,849.5 1109.5,832.5 1117.5,837.25 1125.5,839.5 1133.5,842.5 1141.5,842.5 1149.5,850.5 1157.5,861.25 1165.5,868.25 1173.5,871.25 1181.5,872.5 1189.5,874.5 1197.5,865.25 1205.5,867.5 1213.5,860.25 1221.5,862.5 1229.5,857.5 1237.5,861.25 1245.5,863.5 1253.5,848.4 1261.5,843.4 1269.5,845.3 1277.5,860.1 1285.5,863.5 1293.5,863.5 1301.5,862.2 1309.5,870.4 1317.5,865 1325.5,870.4 1333.5,856.6 1341.5,847.8 1349.5,829 1357.5,823.3 1365.5,817.4 1373.5,817.4 1381.5,814.9" fill="none" stroke="#1e90ff" stroke-width="1" stroke-linejoin="round" shape-rendering="crispEdges"/>
<line x1="1326" y1="730" x2="1382.0" y2="642.0" stroke="#ff0000" stroke-width="3.1"/>
<polygon points="1386.3,635.3 1385.0,646.3 1381.6,642.7 1376.9,641.2" fill="#ff0000"/>
<line x1="1307" y1="873.5" x2="1354.0" y2="820.6" stroke="#ff0000" stroke-width="3.1"/>
<polygon points="1359.0,815.0 1356.3,825.3 1353.5,821.2 1349.1,818.9" fill="#ff0000"/>
<line x1="1358.5" y1="816.5" x2="1390.6" y2="810.8" stroke="#ff0000" stroke-width="3.1"/>
<polygon points="1398.0,809.5 1389.4,815.7 1389.8,810.9 1387.8,806.6" fill="#ff0000"/>
<g font-size="9" fill="#000" stroke="#000" stroke-width="0.12">
<g shape-rendering="crispEdges">
<rect x="1649" y="43" width="2" height="1"/>
<rect x="1649" y="76" width="2" height="1"/>
<rect x="1649" y="109" width="2" height="1"/>
<rect x="1649" y="142" width="2" height="1"/>
<rect x="1649" y="175" width="2" height="1"/>
<rect x="1649" y="208" width="2" height="1"/>
<rect x="1649" y="241" width="2" height="1"/>
<rect x="1649" y="274" width="2" height="1"/>
<rect x="1649" y="307" width="2" height="1"/>
<rect x="1649" y="340" width="2" height="1"/>
<rect x="1649" y="373" width="2" height="1"/>
<rect x="1649" y="406" width="2" height="1"/>
<rect x="1649" y="439" width="2" height="1"/>
<rect x="1649" y="472" width="2" height="1"/>
<rect x="1649" y="505" width="2" height="1"/>
<rect x="1649" y="538" width="2" height="1"/>
<rect x="1649" y="571" width="2" height="1"/>
</g>
<text x="1654.2" y="46.8">28043.0</text>
<text x="1654.2" y="79.8">27881.0</text>
<text x="1654.2" y="112.8">27723.5</text>
<text x="1654.2" y="145.8">27561.5</text>
<text x="1654.2" y="178.8">27399.5</text>
<text x="1654.2" y="211.8">27237.5</text>
<text x="1654.2" y="244.8">27080.0</text>
<text x="1654.2" y="277.8">26918.0</text>
<text x="1654.2" y="310.8">26756.0</text>
<text x="1654.2" y="343.8">26598.5</text>
<text x="1654.2" y="376.8">26436.5</text>
<text x="1654.2" y="409.8">26274.5</text>
<text x="1654.2" y="442.8">26112.5</text>
<text x="1654.2" y="475.8">25955.0</text>
<text x="1654.2" y="508.8">25793.0</text>
<text x="1654.2" y="541.8">25631.0</text>
<text x="1654.2" y="574.8">25473.5</text>
</g>
<rect x="1650" y="252.5" width="41" height="10.6" fill="#ff0000"/>
<text x="1654.2" y="261.3" font-size="9" fill="#fff" stroke="#fff" stroke-width="0.15">26995.9</text>
<rect x="1650" y="288.5" width="41" height="10.6" fill="#ff0000"/>
<text x="1654.2" y="297.3" font-size="9" fill="#fff" stroke="#fff" stroke-width="0.15">26820.9</text>
<rect x="1650" y="327.3" width="41" height="10.6" fill="#000000"/>
<text x="1654.2" y="336.1" font-size="9" fill="#fff" stroke="#fff" stroke-width="0.15">26637.5</text>
<rect x="1650" y="343.5" width="41" height="10.6" fill="#32cd32"/>
<text x="1654.2" y="352.3" font-size="9" fill="#fff" stroke="#fff" stroke-width="0.15">26553.6</text>
<rect x="1650" y="377.3" width="41" height="10.6" fill="#0000ff"/>
<text x="1654.2" y="386.1" font-size="9" fill="#fff" stroke="#fff" stroke-width="0.15">26388.4</text>
<rect x="1650" y="412.4" width="41" height="10.6" fill="#0000ff"/>
<text x="1654.2" y="421.2" font-size="9" fill="#fff" stroke="#fff" stroke-width="0.15">26215.6</text>
<g font-size="9" fill="#000" stroke="#000" stroke-width="0.1">
<text x="1652" y="586.3">167.68</text>
<text x="1652" y="646.3">0.00</text>
<text x="1652" y="742.8">-262.94</text>
<text x="1652" y="758.8">100</text>
<text x="1652" y="787.8">80</text>
<text x="1652" y="838.8">50</text>
<text x="1652" y="899.8">15</text>
<text x="1652" y="918.8">0</text>
<g shape-rendering="crispEdges">
<rect x="1649" y="643" width="2" height="1"/>
<rect x="1649" y="784" width="2" height="1"/>
<rect x="1649" y="835" width="2" height="1"/>
<rect x="1649" y="896" width="2" height="1"/>
</g>
<text x="4" y="33.2" font-size="9.25">JPN225-,H4&#160; 26590.0 26670.0 26562.5 26637.5</text>
<text x="-6.5" y="588.7" font-size="9.25" textLength="125.5">MACD(12,26,9) 20.62 -133.69</text>
<text x="-6" y="760.7" font-size="9.25">RSI(14) 62.0762</text>
<g shape-rendering="crispEdges">
<rect x="-11" y="922" width="1" height="3"/>
<rect x="53" y="922" width="1" height="3"/>
<rect x="117" y="922" width="1" height="3"/>
<rect x="181" y="922" width="1" height="3"/>
<rect x="245" y="922" width="1" height="3"/>
<rect x="309" y="922" width="1" height="3"/>
<rect x="373" y="922" width="1" height="3"/>
<rect x="437" y="922" width="1" height="3"/>
<rect x="501" y="922" width="1" height="3"/>
<rect x="565" y="922" width="1" height="3"/>
<rect x="629" y="922" width="1" height="3"/>
<rect x="693" y="922" width="1" height="3"/>
<rect x="757" y="922" width="1" height="3"/>
<rect x="821" y="922" width="1" height="3"/>
<rect x="885" y="922" width="1" height="3"/>
<rect x="949" y="922" width="1" height="3"/>
<rect x="1013" y="922" width="1" height="3"/>
<rect x="1077" y="922" width="1" height="3"/>
<rect x="1141" y="922" width="1" height="3"/>
<rect x="1205" y="922" width="1" height="3"/>
<rect x="1269" y="922" width="1" height="3"/>
<rect x="1333" y="922" width="1" height="3"/>
</g>
<text x="-12" y="934.6" font-size="9.3" letter-spacing="0.18">5 Apr 2022</text>
<text x="52" y="934.6" font-size="9.3" letter-spacing="0.18">6 Apr 00:00</text>
<text x="116" y="934.6" font-size="9.3" letter-spacing="0.18">7 Apr 10:55</text>
<text x="180" y="934.6" font-size="9.3" letter-spacing="0.18">8 Apr 18:55</text>
<text x="244" y="934.6" font-size="9.3" letter-spacing="0.18">12 Apr 00:00</text>
<text x="308" y="934.6" font-size="9.3" letter-spacing="0.18">13 Apr 10:55</text>
<text x="372" y="934.6" font-size="9.3" letter-spacing="0.18">14 Apr 18:55</text>
<text x="436" y="934.6" font-size="9.3" letter-spacing="0.18">18 Apr 00:00</text>
<text x="500" y="934.6" font-size="9.3" letter-spacing="0.18">19 Apr 10:55</text>
<text x="564" y="934.6" font-size="9.3" letter-spacing="0.18">20 Apr 18:55</text>
<text x="628" y="934.6" font-size="9.3" letter-spacing="0.18">22 Apr 00:00</text>
<text x="692" y="934.6" font-size="9.3" letter-spacing="0.18">25 Apr 10:55</text>
<text x="756" y="934.6" font-size="9.3" letter-spacing="0.18">26 Apr 18:55</text>
<text x="820" y="934.6" font-size="9.3" letter-spacing="0.18">28 Apr 00:00</text>
<text x="884" y="934.6" font-size="9.3" letter-spacing="0.18">29 Apr 10:55</text>
<text x="948" y="934.6" font-size="9.3" letter-spacing="0.18">2 May 18:55</text>
<text x="1012" y="934.6" font-size="9.3" letter-spacing="0.18">4 May 00:00</text>
<text x="1076" y="934.6" font-size="9.3" letter-spacing="0.18">5 May 10:55</text>
<text x="1140" y="934.6" font-size="9.3" letter-spacing="0.18">6 May 18:55</text>
<text x="1204" y="934.6" font-size="9.3" letter-spacing="0.18">10 May 00:00</text>
<text x="1268" y="934.6" font-size="9.3" letter-spacing="0.18">11 May 10:55</text>
<text x="1332" y="934.6" font-size="9.3" letter-spacing="0.18">12 May 18:55</text>
</g>
<polygon points="1392.4,21.6 1402.4,21.6 1397.4,27.3" fill="#bdbdbd"/>
</svg>
<div id="tb"></div><div id="re"></div><div id="tbb"></div>
<svg id="tbi" width="1696" height="17" viewBox="0 0 1696 17" style="overflow:hidden">
<defs><linearGradient id="gg" x1="0" y1="0" x2="0" y2="1"><stop offset="0" stop-color="#5ee05e"/><stop offset="1" stop-color="#0a9a0a"/></linearGradient><linearGradient id="gold" x1="0" y1="0" x2="1" y2="1"><stop offset="0" stop-color="#f6d060"/><stop offset="1" stop-color="#c08a10"/></linearGradient><linearGradient id="redc" x1="0" y1="0" x2="0" y2="1"><stop offset="0" stop-color="#e8452a"/><stop offset="1" stop-color="#d01808"/></linearGradient><pattern id="dith" width="2" height="2" patternUnits="userSpaceOnUse"><rect width="2" height="2" fill="#f0f0f0"/><rect width="1" height="1" fill="#fff"/><rect x="1" y="1" width="1" height="1" fill="#fff"/></pattern></defs>
<circle cx="0" cy="12.5" r="2" fill="#d89a28"/>
<rect x="8.8" y="0" width="1" height="14.5" fill="#a8a8a8"/>
<rect x="19.5" y="-3" width="10" height="12.5" fill="#fff" stroke="#7a7a7a" stroke-width="1" rx="1"/>
<line x1="21.5" y1="0" x2="27.5" y2="0" stroke="#8a8a8a" stroke-width="0.8"/>
<line x1="21.5" y1="2.5" x2="27.5" y2="2.5" stroke="#8a8a8a" stroke-width="0.8"/>
<line x1="21.5" y1="5" x2="27.5" y2="5" stroke="#8a8a8a" stroke-width="0.8"/>
<path d="M26.5,2.5 h4 v4 h4 v4 h-4 v4 h-4 v-4 h-4 v-4 h4 z" fill="url(#gg)" stroke="#0c8c0c" stroke-width="0.6"/>
<g stroke="#000" stroke-width="1.05" fill="none">
<path d="M38.3,0.4 H44.5 M38.3,3.3 H44.6 M42.3,2.8 V8.9 M41.4,4.4 L39,8 M43.3,4.4 L44.7,6.6"/>
<path d="M47,-2 V5.4 Q46.9,7.6 45.4,8.9 M47,2.5 H50.2 M49.7,2.5 V9"/>
<path d="M52.2,0 L53.2,1 M51.8,2.9 H53.5 V8 L54.8,6.9 M55,0.2 H60.4 M58.6,0 V8.6 H56.6"/>
<path d="M64.6,-3 V3.6 H71.5 V-3 M64.6,1 H71.5 M62,6.4 H74.2 M68,-3 V9.1"/>
</g>
<path d="M90.8,-3 L86,6.6 L94,12.7 L102,6.4 L100.5,3.6 L95,-3 Z" fill="#b8860e"/>
<path d="M86.6,7 L94,12.3 L101.6,6.4 L101,5.4 L94,10.6 L87,6 Z" fill="#f2e2a2"/>
<path d="M90.8,-3 L86.2,5.8 L94,10.4 L101.2,5 L95,-3 Z" fill="url(#gold)"/>
<rect x="116" y="-3" width="11" height="9" fill="#3c8ce4" stroke="#2a6ac0" stroke-width="0.6"/>
<path d="M119,0.5 H124 M119,2.5 H124" stroke="#fff" stroke-width="0.8"/>
<path d="M117,12.3 a3.2,3.2 0 0 1 0.3,-6.3 a3.6,3.6 0 0 1 6.4,-1 a3,3 0 0 1 4,2.6 a2.4,2.4 0 0 1 -0.6,4.7 z" fill="#e4ecf6" stroke="#5c84c0" stroke-width="0.9"/>
<g fill="none" stroke-linecap="round">
<path d="M146.2,1.2 A4.6,4.6 0 0 0 146.2,7.8" stroke="#4a78d8" stroke-width="1.1"/>
<path d="M143.8,-1.2 A8,8 0 0 0 143.8,10.2" stroke="#7a9ee4" stroke-width="1.1"/>
<path d="M152.8,1.2 A4.6,4.6 0 0 1 152.8,7.8" stroke="#58b058" stroke-width="1.2"/>
<path d="M155.2,-1.2 A8,8 0 0 1 150.6,12.2" stroke="#58b058" stroke-width="1.6"/>
<path d="M150.4,5 V12.2" stroke="#48a048" stroke-width="1.6"/>
</g><circle cx="149.5" cy="4.4" r="1.6" fill="#2858c8"/>
<path d="M169.5,2.5 L183.5,2.5 L180,8 L176,12.6 L172.5,10 Z" fill="#f4d428" stroke="#c8a410" stroke-width="0.7"/>
<ellipse cx="177" cy="1.2" rx="7.3" ry="3" fill="#4aa8e8" stroke="#2a7cc0" stroke-width="0.6"/>
<ellipse cx="177.5" cy="-1" rx="4" ry="2.6" fill="#7cc4f0"/>
<circle cx="181.6" cy="8.4" r="4.1" fill="#e02818" stroke="#b01808" stroke-width="0.5"/>
<rect x="180.2" y="7" width="2.9" height="2.9" fill="#fff"/>
<g stroke="#000" stroke-width="1.05" fill="none">
<path d="M191.8,-3 V8.6 M199.6,-3 V8.6 M191.8,0.6 H199.6 M191.8,3.4 H199.6 M191.8,6.1 H199.6 M191.8,8.6 H199.6"/>
<path d="M202.6,2.4 H208 M205.2,2.8 L203.2,7.5 L208,7 M207,5.4 L208.3,8 M208.4,1.9 H213.1 M212.5,1.9 V7 Q212.5,8.8 210.6,8.4 M210.2,-2 Q210.2,5 207,8.8"/>
<path d="M214.6,0.3 H225.3 M217.6,2.4 L215.6,5 M221.6,2.4 L224.2,5 M222.2,4.4 Q219.4,7.8 215,8.9 M217.2,4.6 Q220,7.8 224.8,8.8"/>
<path d="M228.7,-3 V1.9 H235.2 V-3 M228.7,-0.2 H235.2 M229.7,2.4 L227.2,5.6 M228.4,3.9 H236.6 V7.2 Q236.6,8.8 234.6,8.3 M232.6,4.2 L228.2,8.4 M235,4.2 L231,8.9"/>
</g>
<rect x="244.9" y="0" width="1" height="17" fill="#8c8c8c"/>
<rect x="248.8" y="1" width="3" height="1" fill="#b4b4b4"/>
<rect x="248.8" y="3" width="3" height="1" fill="#b4b4b4"/>
<rect x="248.8" y="5" width="3" height="1" fill="#b4b4b4"/>
<rect x="248.8" y="7" width="3" height="1" fill="#b4b4b4"/>
<rect x="248.8" y="9" width="3" height="1" fill="#b4b4b4"/>
<rect x="248.8" y="11" width="3" height="1" fill="#b4b4b4"/>
<rect x="248.8" y="13" width="3" height="1" fill="#b4b4b4"/>
<g stroke="#505050" stroke-width="1.1" fill="none"><line x1="263.3" y1="-2" x2="263.3" y2="13"/><line x1="260.3" y1="10.3" x2="273.3" y2="10.3"/></g>
<polygon points="272.3,8.6 274.90000000000003,10.3 272.3,12" fill="#505050"/>
<path d="M270,-1 V7.6 M267.4,7.2 H270 M270,1.4 H272.2" stroke="#18a018" stroke-width="1.3" fill="none"/>
<rect x="283.5" y="0" width="23.5" height="14.5" fill="url(#dith)"/>
<rect x="283.0" y="0" width="1" height="14.5" fill="#8c8c8c"/>
<g stroke="#505050" stroke-width="1.1" fill="none"><line x1="291.3" y1="-2" x2="291.3" y2="13"/><line x1="288.3" y1="10.3" x2="301.3" y2="10.3"/></g>
<polygon points="300.3,8.6 302.90000000000003,10.3 300.3,12" fill="#505050"/>
<rect x="295" y="-2" width="4.6" height="9" fill="#22c422" stroke="#0c8c0c" stroke-width="0.8"/><line x1="297.3" y1="7" x2="297.3" y2="9.2" stroke="#0c8c0c" stroke-width="1"/>
<g stroke="#505050" stroke-width="1.1" fill="none"><line x1="319.3" y1="-2" x2="319.3" y2="13"/><line x1="316.3" y1="10.3" x2="329.3" y2="10.3"/></g>
<polygon points="328.3,8.6 330.90000000000003,10.3 328.3,12" fill="#505050"/>
<path d="M317.6,7.6 Q320,5.8 321.8,3.4 Q323.6,1.2 325.4,2.8 Q327.6,5.2 329.8,6.6" stroke="#40a850" stroke-width="1.1" fill="none"/>
<rect x="339.8" y="0" width="1" height="14.5" fill="#a8a8a8"/>
<line x1="358.3" y1="6.9" x2="363.9" y2="12.4" stroke="#b89018" stroke-width="3.2" stroke-linecap="round"/>
<line x1="358.7" y1="7.3" x2="363.5" y2="12" stroke="#f0d038" stroke-width="1.6" stroke-linecap="round"/>
<circle cx="354.5" cy="3" r="5.2" fill="#d4ecfa" stroke="#3a86d4" stroke-width="1.3"/>
<line x1="351.5" y1="3" x2="357.5" y2="3" stroke="#2a70c8" stroke-width="1.5"/>
<line x1="354.5" y1="0" x2="354.5" y2="6" stroke="#2a70c8" stroke-width="1.5"/>
<line x1="386.3" y1="6.9" x2="391.9" y2="12.4" stroke="#b89018" stroke-width="3.2" stroke-linecap="round"/>
<line x1="386.7" y1="7.3" x2="391.5" y2="12" stroke="#f0d038" stroke-width="1.6" stroke-linecap="round"/>
<circle cx="382.5" cy="3" r="5.2" fill="#d4ecfa" stroke="#3a86d4" stroke-width="1.3"/>
<line x1="379.5" y1="3" x2="385.5" y2="3" stroke="#2a70c8" stroke-width="1.5"/>
<rect x="405.2" y="-3.2" width="7.4" height="7.4" fill="#4cac24" stroke="#2c8410" stroke-width="0.5"/>
<rect x="406.59999999999997" y="-0.6000000000000001" width="4.6" height="3.4" fill="#f4f8ff"/><rect x="407.59999999999997" y="1.2000000000000002" width="2.6" height="1.8" fill="#4cac24"/>
<rect x="413.2" y="-3.2" width="7.4" height="7.4" fill="#2c62dc" stroke="#1c48b0" stroke-width="0.5"/>
<rect x="414.59999999999997" y="-0.6000000000000001" width="4.6" height="3.4" fill="#f4f8ff"/><rect x="415.59999999999997" y="1.2000000000000002" width="2.6" height="1.8" fill="#2c62dc"/>
<rect x="405.2" y="5" width="7.4" height="7.4" fill="#2c62dc" stroke="#1c48b0" stroke-width="0.5"/>
<rect x="406.59999999999997" y="7.6" width="4.6" height="3.4" fill="#f4f8ff"/><rect x="407.59999999999997" y="9.4" width="2.6" height="1.8" fill="#2c62dc"/>
<rect x="413.2" y="5" width="7.4" height="7.4" fill="#4cac24" stroke="#2c8410" stroke-width="0.5"/>
<rect x="414.59999999999997" y="7.6" width="4.6" height="3.4" fill="#f4f8ff"/><rect x="415.59999999999997" y="9.4" width="2.6" height="1.8" fill="#4cac24"/>
<rect x="429.8" y="0" width="1" height="14.5" fill="#a8a8a8"/>
<rect x="435.5" y="0" width="24.0" height="14.5" fill="url(#dith)"/>
<rect x="435.0" y="0" width="1" height="14.5" fill="#8c8c8c"/>
<g stroke="#505050" stroke-width="1.1" fill="none"><line x1="443.3" y1="-2" x2="443.3" y2="13"/><line x1="440.3" y1="10.3" x2="453.3" y2="10.3"/></g>
<polygon points="452.3,8.6 454.90000000000003,10.3 452.3,12" fill="#505050"/>
<polygon points="448,1.4 452.2,4.5 448,7.6" fill="#7adc7a" stroke="#18a018" stroke-width="0.9"/>
<rect x="463.5" y="0" width="24.0" height="14.5" fill="url(#dith)"/>
<rect x="463.0" y="0" width="1" height="14.5" fill="#8c8c8c"/>
<g stroke="#505050" stroke-width="1.1" fill="none"><line x1="471.3" y1="-2" x2="471.3" y2="13"/><line x1="468.3" y1="10.3" x2="481.3" y2="10.3"/></g>
<polygon points="480.3,8.6 482.90000000000003,10.3 480.3,12" fill="#505050"/>
<line x1="477.6" y1="-2" x2="477.6" y2="8.6" stroke="#2a64b4" stroke-width="1.2"/>
<path d="M478.8,4.5 H482.6 M481.2,2.2 L478.8,4.5 L481.2,6.8" stroke="#d84410" stroke-width="1.2" fill="none"/>
<rect x="491.8" y="0" width="1" height="14.5" fill="#a8a8a8"/>
<rect x="502.5" y="-3" width="10" height="12.5" fill="#fff" stroke="#7a7a7a" stroke-width="1" rx="1"/>
<line x1="504.5" y1="0" x2="510.5" y2="0" stroke="#8a8a8a" stroke-width="0.8"/>
<line x1="504.5" y1="2.5" x2="510.5" y2="2.5" stroke="#8a8a8a" stroke-width="0.8"/>
<line x1="504.5" y1="5" x2="510.5" y2="5" stroke="#8a8a8a" stroke-width="0.8"/>
<path d="M510,2.5 h4 v4 h4 v4 h-4 v4 h-4 v-4 h-4 v-4 h4 z" fill="url(#gg)" stroke="#0c8c0c" stroke-width="0.6"/>
<polygon points="524,4 529.6,4 526.8,7" fill="#000"/>
<circle cx="547.5" cy="4.6" r="6.9" fill="#fff" stroke="#2a78dc" stroke-width="2"/>
<circle cx="547.5" cy="4.6" r="7.9" fill="none" stroke="#1c58b0" stroke-width="0.5"/>
<path d="M547.5,0.6 V4.8 H550.4" stroke="#383838" stroke-width="0.9" fill="none"/>
<polygon points="562.5,4 568.1,4 565.3,7" fill="#000"/>
<rect x="579.3" y="-2" width="15" height="13.8" fill="#fff" stroke="#3474c8" stroke-width="1.2"/>
<line x1="579.3" y1="6" x2="594.3" y2="6" stroke="#3474c8" stroke-width="1"/>
<path d="M581.5,4 L584,3.2 L586,2 L588.5,2.8 L590.5,1.6 L592.4,2" stroke="#b03018" stroke-width="1" fill="none"/>
<path d="M581.5,9.6 L584,8.6 L586,9.4 L588.4,7.6 L590.4,9.2 L592.4,9.6" stroke="#28a028" stroke-width="1" fill="none"/>
<polygon points="601.5,4 607.1,4 604.3,7" fill="#000"/>
<rect x="612.8" y="0" width="1" height="17" fill="#8c8c8c"/>
<rect x="616.5" y="1" width="3" height="1" fill="#b4b4b4"/>
<rect x="616.5" y="3" width="3" height="1" fill="#b4b4b4"/>
<rect x="616.5" y="5" width="3" height="1" fill="#b4b4b4"/>
<rect x="616.5" y="7" width="3" height="1" fill="#b4b4b4"/>
<rect x="616.5" y="9" width="3" height="1" fill="#b4b4b4"/>
<rect x="616.5" y="11" width="3" height="1" fill="#b4b4b4"/>
<rect x="616.5" y="13" width="3" height="1" fill="#b4b4b4"/>
<rect x="623.5" y="0" width="24.0" height="14.5" fill="url(#dith)"/>
<rect x="623.0" y="0" width="1" height="14.5" fill="#8c8c8c"/>
<polygon points="630.6,-3 630.6,9 633.2,6.8 635.2,11.4 637,10.6 635,6.2 638.6,6.2" fill="#505050"/>
<g stroke="#505050" stroke-width="1.1"><line x1="656" y1="5.2" x2="671" y2="5.2"/><line x1="663.3" y1="-2" x2="663.3" y2="13"/></g>
<rect x="679.8" y="0" width="1" height="14.5" fill="#a8a8a8"/>
<g stroke="#505050" stroke-width="1.1"><line x1="697.3" y1="-2" x2="697.3" y2="12"/><line x1="720" y1="5.2" x2="732" y2="5.2"/><line x1="747.8" y1="11.8" x2="760" y2="-0.4"/></g>
<g stroke="#404040" stroke-width="1.1"><line x1="774" y1="8" x2="785" y2="-3"/><line x1="776" y1="10.5" x2="788" y2="-1.5"/><line x1="778.5" y1="12" x2="789" y2="1.5"/>
<line x1="775.5" y1="5.5" x2="778.5" y2="10.8"/>
<line x1="777.7" y1="3.3" x2="780.7" y2="8.600000000000001"/>
<line x1="779.9" y1="1.0999999999999996" x2="782.9" y2="6.4"/>
<line x1="782.1" y1="-1.1000000000000005" x2="785.1" y2="4.2"/>
<line x1="784.3" y1="-3.3000000000000007" x2="787.3" y2="2.0"/>
</g>
<path d="M788.6,9.2 H785 V13.4 H788.8 M785,11.2 H788" stroke="#303030" stroke-width="1.1" fill="none"/>
<line x1="803" y1="1.5" x2="817" y2="1.5" stroke="#505050" stroke-width="1" stroke-dasharray="1,1"/>
<line x1="803" y1="5.5" x2="817" y2="5.5" stroke="#505050" stroke-width="1" stroke-dasharray="1,1"/>
<line x1="803" y1="9.5" x2="812" y2="9.5" stroke="#505050" stroke-width="1" stroke-dasharray="1,1"/>
<path d="M816.6,9.2 H813 V13.6 M813,11.3 H816" stroke="#303030" stroke-width="1.1" fill="none"/>
<text x="833" y="10" font-size="12.4" stroke="#505050" stroke-width="0.35" fill="#505050" style="font-family:'Liberation Sans',sans-serif">A</text>
<rect x="860.5" y="1.5" width="11" height="10" fill="none" stroke="#505050" stroke-width="1" stroke-dasharray="1,1" shape-rendering="crispEdges"/>
<path d="M861.8,3 H870.4 M866.1,3 V10" stroke="#505050" stroke-width="1.4" fill="none"/>
<polygon points="890,-1.6 893,1 890,3.4 887,1" fill="#505050"/><polygon points="897.5,6.6 901,9.4 897.5,12.2 894,9.4" fill="#505050"/>
<path d="M889,4.6 L891.6,8 L896.4,2.4" stroke="#505050" stroke-width="1.2" fill="none"/>
<polygon points="907.5,4 913.1,4 910.3,7" fill="#000"/>
<rect x="918.8" y="0" width="1" height="17" fill="#8c8c8c"/>
<rect x="922.5" y="1" width="3" height="1" fill="#b4b4b4"/>
<rect x="922.5" y="3" width="3" height="1" fill="#b4b4b4"/>
<rect x="922.5" y="5" width="3" height="1" fill="#b4b4b4"/>
<rect x="922.5" y="7" width="3" height="1" fill="#b4b4b4"/>
<rect x="922.5" y="9" width="3" height="1" fill="#b4b4b4"/>
<rect x="922.5" y="11" width="3" height="1" fill="#b4b4b4"/>
<rect x="922.5" y="13" width="3" height="1" fill="#b4b4b4"/>
<rect x="1069.8" y="0" width="24.799999999999955" height="14.5" fill="url(#dith)"/>
<rect x="1069.3" y="0" width="1" height="14.5" fill="#8c8c8c"/>
<g font-size="9" fill="#4a4a4a" style="font-family:'Liberation Sans',sans-serif">
<text x="934.3" y="8.8">M1</text>
<text x="962.2" y="8.8">M5</text>
<text x="988.2" y="8.8">M15</text>
<text x="1016" y="8.8">M30</text>
<text x="1047.4" y="8.8">H1</text>
<text x="1074.5" y="8.8">H4</text>
<text x="1103.1" y="8.8">D1</text>
<text x="1131" y="8.8">W1</text>
<text x="1157.3" y="8.8">MN</text>
</g>
<rect x="1180.1" y="0" width="1" height="16.5" fill="#8c8c8c"/>
<line x1="1647.2" y1="5.8" x2="1642.8" y2="10.2" stroke="#2a5ec8" stroke-width="2.4" stroke-linecap="round"/>
<circle cx="1650.4" cy="2.4" r="3.9" fill="#f3f3f7" stroke="#2a5ec8" stroke-width="1.2"/>
<path d="M1667.4,7 a5.6,4.7 0 1 1 4.4,4.6 l-1.6,2.2 l-0.5,-2.9 a5.2,4.5 0 0 1 -2.3,-3.9 z" fill="#e2e3ee" stroke="#9a9ca2" stroke-width="0.9"/>
<ellipse cx="1672.6" cy="5.2" rx="4.4" ry="2.2" fill="#f6f6f8"/>
<circle cx="1681.5" cy="2.3" r="8.4" fill="url(#redc)"/>
<text x="1680.6" y="6.9" font-size="15" fill="#fff" text-anchor="middle" style="font-family:'Liberation Serif',serif">1</text>
</svg>
<div id="panel">
<div style="left:0;top:-2.2px;width:211px;height:2.4px;background:#fff;"></div>
<div style="left:44px;top:0;width:116px;height:24px;background:#fff;"></div>
<div class="rb" style="left:0;top:0;width:44px;height:24px;"><span style="position:absolute;left:4.5px;top:5px;font-size:12.2px;transform:scaleX(0.84);transform-origin:0 0;">SELL</span></div>
<div style="left:0;top:23px;width:40px;height:1px;background:#f08080;"></div>
<div class="rb" style="left:159px;top:0;width:52px;height:24px;"><span style="position:absolute;left:13.6px;top:5px;font-size:12.2px;transform:scaleX(0.9);transform-origin:0 0;">BUY</span></div>
<div style="left:163px;top:23px;width:44px;height:1px;background:#f08080;"></div>
<div class="rp" style="left:0;top:24px;width:101px;height:33px;"></div>
<div class="rp" style="left:103px;top:24px;width:108px;height:33px;"></div>
<div style="left:46px;top:0;width:111px;height:22px;background:#fff;border:1px solid #a0a0a0;"></div>
<div style="left:47px;top:1px;width:20px;height:20px;background:linear-gradient(#e8e8e8,#cfcfcf);border:1px solid #c8c8c8;"></div>
<div style="left:136px;top:1px;width:20px;height:20px;background:linear-gradient(#e8e8e8,#cfcfcf);border:1px solid #c8c8c8;"></div>
<div style="left:66px;top:1px;width:66px;height:20px;font-size:12px;color:#000;text-align:right;line-height:21px;">1.00</div>
<svg width="211" height="57" style="left:0;top:0"><polygon points="54,9.2 59.2,9.2 56.6,12.2" fill="#4a5ab8"/><polygon points="143,12.2 148.2,12.2 145.6,9.2" fill="#4a5ab8"/></svg>
<div style="left:8.3px;top:41.6px;font-size:10.5px;font-weight:bold;color:#fff;line-height:12px;transform:scaleX(1.155);transform-origin:0 0;">26636</div>
<div style="left:45px;top:23px;font-size:35px;color:#fff;line-height:36px;font-family:'Liberation Serif', serif;">.0</div>
<div style="left:118.5px;top:41.6px;font-size:10.5px;font-weight:bold;color:#fff;line-height:12px;transform:scaleX(1.155);transform-origin:0 0;">26659</div>
<div style="left:155.5px;top:23px;font-size:35px;color:#fff;line-height:36px;font-family:'Liberation Serif', serif;">.0</div>
</div>
</body></html>
